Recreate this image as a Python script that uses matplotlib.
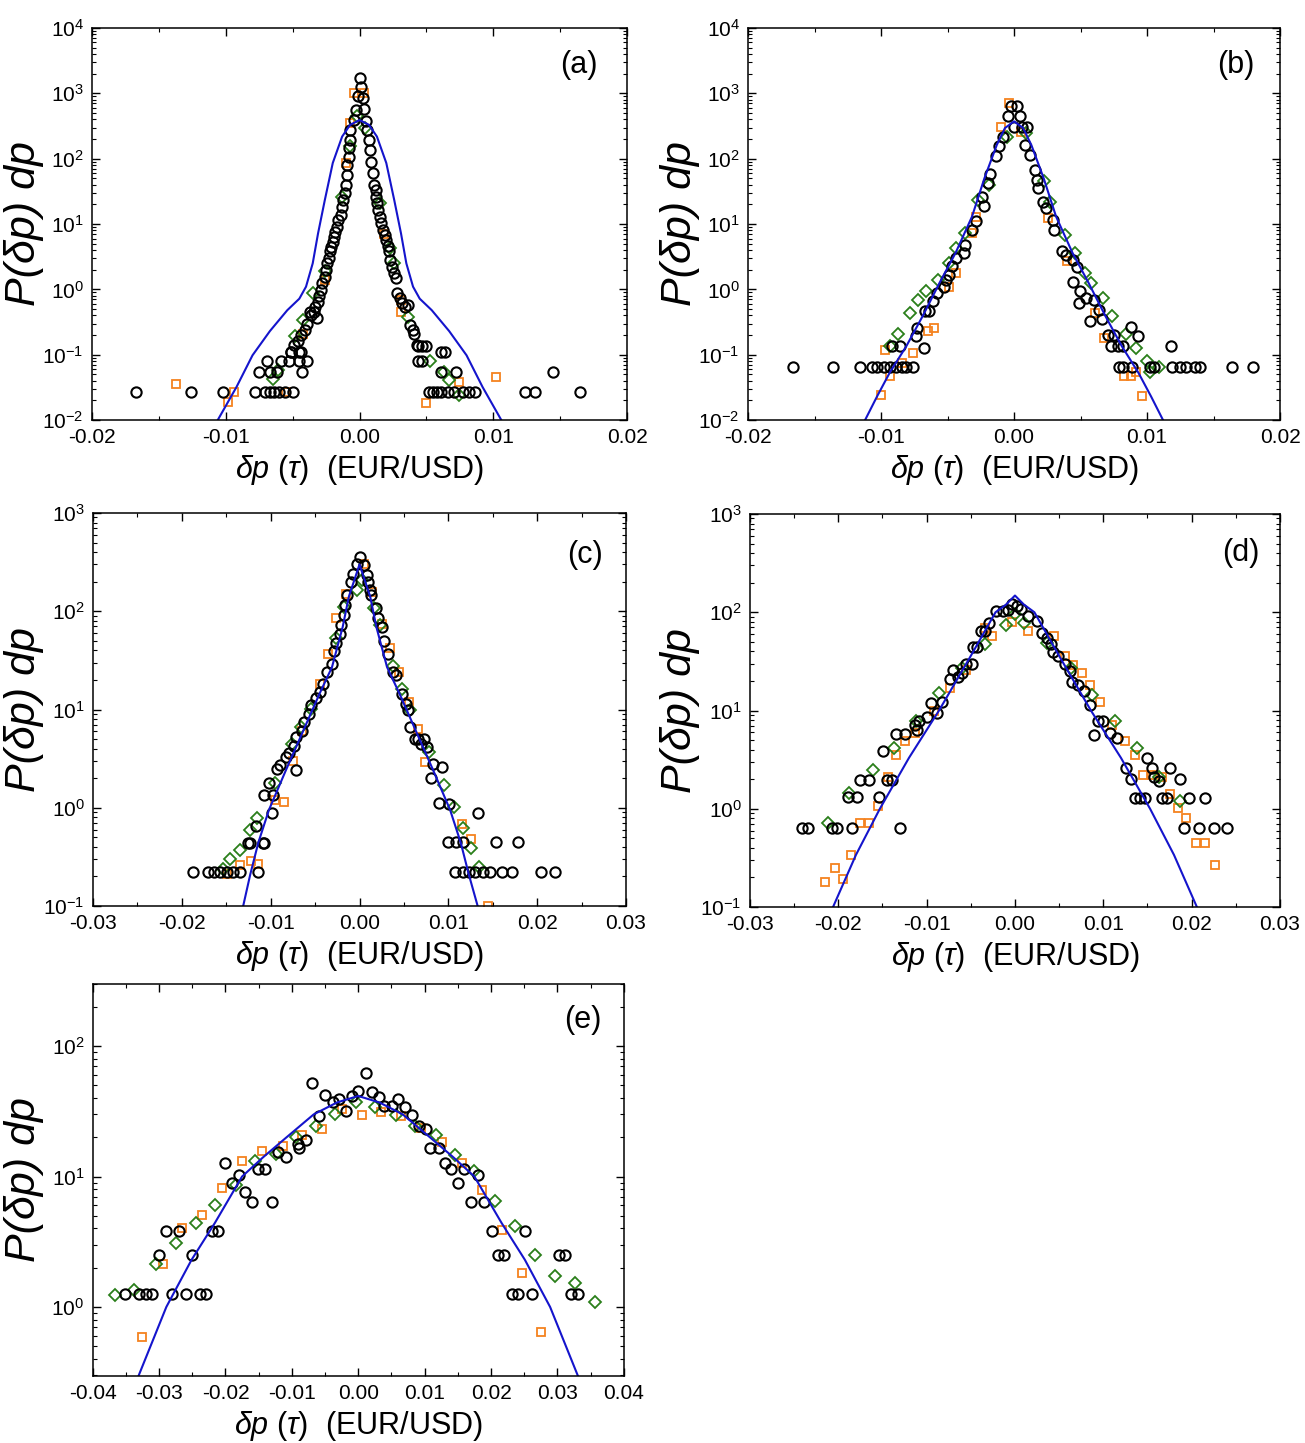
import matplotlib
matplotlib.use("Agg")
import matplotlib.pyplot as plt
from matplotlib.ticker import AutoMinorLocator, NullFormatter, LogLocator

plt.rcParams['font.family'] = 'Liberation Sans'
plt.rcParams['mathtext.fontset'] = 'custom'
plt.rcParams['mathtext.rm'] = 'Liberation Sans'
plt.rcParams['mathtext.it'] = 'Liberation Sans:italic'
plt.rcParams['mathtext.bf'] = 'Liberation Sans:bold'

# ---------------- panel (a) ----------------
a_circ_x = [0.0, 0.0001, -0.0001, 0.00025, -0.0003, 0.0003, -0.0004, 0.0005,
            -0.0007, -0.0007, -0.00075, -0.0008, -0.0009, -0.0009, -0.001, -0.0011, -0.0012, -0.0013,
            -0.0014, -0.0016, -0.0017, -0.0018, -0.0019, -0.002, -0.0021, -0.0022, -0.0023, -0.0024,
            -0.0025, -0.0026, -0.0028, -0.0029, -0.003, -0.0031, -0.0033, -0.0034, -0.0036, -0.0037,
            -0.0032, -0.0039, -0.0041, -0.0044, -0.0046, -0.0049, -0.0051, -0.0044,
            0.00058, 0.00068, 0.00075, 0.00088, 0.001, 0.0011, 0.0012, 0.00125, 0.0013, 0.0014, 0.0015,
            0.0016, 0.00175, 0.0019, 0.002, 0.0021, 0.0022, 0.0023, 0.0024, 0.0026, 0.0027, 0.0028,
            0.003, 0.0032, 0.0034, 0.0036, 0.0038, 0.004, 0.0041, 0.0043,
            0.0044, 0.0047, 0.0050, -0.0051, -0.0045, 0.0061, 0.0064,
            -0.0069, -0.0059, -0.0053, -0.0045, -0.0039, 0.0044, 0.0047,
            -0.0075, -0.0067, -0.0062, -0.0043, 0.0061, 0.0072, 0.0145,
            -0.0167, -0.0126, -0.0102, -0.0078, -0.0071, -0.0067, -0.0064, -0.006, -0.0056, -0.005,
            0.0052, 0.0055, 0.0058, 0.0061, 0.0066, 0.0071, 0.0077, 0.0082, 0.0086, 0.0124, 0.0131, 0.0165]
a_circ_y = [1700, 1260, 900, 840, 556, 575, 390, 380,
            277, 195, 145, 107, 80, 56, 40, 30, 23, 18.5,
            13.8, 11.5, 9.1, 7.6, 6.4, 5.4, 4.5, 3.8, 3.0, 2.5,
            2.0, 1.56, 1.23, 0.98, 0.78, 0.65, 0.54, 0.45, 0.40, 0.45,
            0.36, 0.30, 0.24, 0.20, 0.16, 0.14, 0.11, 0.11,
            277, 195, 135, 89, 60, 40, 33, 26, 21, 16.4, 13,
            10.2, 8.1, 6.8, 5.7, 4.6, 3.8, 2.8, 2.2, 1.75, 1.47, 0.87,
            0.73, 0.61, 0.54, 0.57, 0.28, 0.24, 0.21, 0.14,
            0.135, 0.135, 0.135, 0.11, 0.11, 0.11, 0.11,
            0.08, 0.08, 0.08, 0.08, 0.08, 0.08, 0.08,
            0.054, 0.054, 0.054, 0.054, 0.054, 0.054, 0.054,
            0.027, 0.027, 0.027, 0.027, 0.027, 0.027, 0.027, 0.027, 0.027, 0.027,
            0.027, 0.027, 0.027, 0.027, 0.027, 0.027, 0.027, 0.027, 0.027, 0.027, 0.027, 0.027]
a_sq_x = [-0.0004, 0.0003, -0.0007, -0.001, -0.0026, -0.0042, 0.0018, 0.0031, 0.0031,
          -0.0137, -0.0098, -0.0094, -0.0055, 0.005, 0.0074, 0.0102]
a_sq_y = [1000, 1000, 350, 85, 1.4, 0.21, 7.0, 0.68, 0.45,
          0.036, 0.0186, 0.027, 0.027, 0.018, 0.038, 0.046]
a_dia_x = [-0.0002, 0.0004, -0.0007, -0.0013, 0.0015, 0.0023, 0.0026, 0.0036, -0.0026, -0.0035,
           -0.0042, -0.0048, -0.0061, -0.0065, 0.0053, 0.0063, 0.0067, 0.0074]
a_dia_y = [445, 300, 155, 26, 21, 4.3, 2.5, 0.38, 1.9, 0.87,
           0.34, 0.19, 0.058, 0.043, 0.081, 0.054, 0.041, 0.024]
a_fit_x = [-0.0106, -0.0092, -0.0080, -0.0067, -0.0054, -0.0045, -0.0040, -0.0035, -0.0031, -0.0026,
           -0.0020, -0.0013, -0.0007, 0.0,
           0.0007, 0.0013, 0.0020, 0.0026, 0.0031, 0.0035, 0.0040, 0.0045, 0.0054, 0.0067,
           0.0080, 0.0092, 0.0106]
a_fit_y = [0.01, 0.032, 0.098, 0.23, 0.48, 0.72, 1.1, 2.5, 7.2, 23,
           86, 218, 330, 390,
           330, 218, 86, 23, 7.2, 2.5, 1.1, 0.72, 0.48, 0.23,
           0.098, 0.032, 0.01]

# ---------------- panel (b) ----------------
b_circ_x = [-0.0002, 0.00025, -0.00043, 0.00046, 0.0, 0.0006,
            -0.00084, -0.00115, -0.00136, -0.00183, -0.00198, -0.00238, -0.00223, -0.00285, -0.00316,
            -0.00368, -0.00378, -0.00433, -0.00464, -0.00486, -0.0051, -0.0053, -0.0058, -0.0061,
            -0.0064, -0.0067, -0.0073, -0.0074, -0.0068, -0.0092, -0.0086,
            -0.0166, -0.0136, -0.0116, -0.0107, -0.0103, -0.0098, -0.00935, -0.0089, -0.0084, -0.0081, -0.0076,
            0.0079, 0.0082, 0.0089, 0.0102, 0.0105, 0.0119, 0.0125, 0.0129, 0.0136, 0.0140, 0.0164, 0.0180,
            0.001, 0.0008, 0.00118, 0.00155, 0.00173, 0.0018, 0.0022, 0.0024, 0.0029, 0.00303,
            0.0036, 0.00387, 0.0044, 0.0047, 0.00443, 0.00495, 0.0054, 0.006, 0.0064, 0.0049,
            0.0057, 0.0066, 0.0071, 0.0075, 0.0088, 0.0073, 0.0078, 0.0082, 0.0093, 0.0118]
b_circ_y = [650, 650, 445, 445, 310, 310,
            218, 155, 110, 58, 43, 26, 18.6, 11, 8.1,
            4.8, 3.6, 3.0, 2.25, 1.66, 1.41, 1.1, 0.88, 0.66,
            0.46, 0.46, 0.26, 0.195, 0.126, 0.135, 0.135,
            0.066, 0.066, 0.066, 0.066, 0.066, 0.066, 0.066, 0.066, 0.066, 0.066, 0.066,
            0.066, 0.066, 0.066, 0.066, 0.066, 0.066, 0.066, 0.066, 0.066, 0.066, 0.066, 0.066,
            310, 163, 115, 68, 48, 36, 22, 17.5, 11.7, 8.1,
            3.8, 3.4, 2.8, 2.2, 1.3, 0.93, 0.74, 0.69, 0.49, 0.62,
            0.33, 0.35, 0.20, 0.20, 0.27, 0.135, 0.135, 0.135, 0.195, 0.135]
b_sq_x = [-0.0100, -0.0093, -0.0097, -0.0084, -0.0076, -0.0065, -0.0060, -0.00486, -0.0044, -0.00316,
          -0.00285, -0.0010, -0.00037, 0.00056, 0.00257, 0.00396, 0.0061, 0.00675, 0.0083, 0.0088,
          0.0092, 0.0096]
b_sq_y = [0.024, 0.047, 0.117, 0.074, 0.107, 0.23, 0.26, 1.1, 1.8, 7.2,
          13, 310, 700, 260, 12.3, 2.7, 0.44, 0.18, 0.047, 0.047,
          0.055, 0.023]
b_dia_x = [-0.00935, -0.0087, -0.0078, -0.0072, -0.0066, -0.0057, -0.00486, -0.0044, -0.0037, -0.0027,
           -0.0019, -0.00053, 0.00087, 0.00226, 0.0027, 0.0038, 0.0046, 0.00536, 0.0058, 0.0067,
           0.0074, 0.00845, 0.0092, 0.0100, 0.0109, 0.0102]
b_dia_y = [0.135, 0.21, 0.44, 0.69, 0.93, 1.4, 2.5, 4.3, 7.2, 23.6,
           40, 218, 245, 45, 22, 6.9, 3.6, 1.8, 1.26, 0.74,
           0.39, 0.21, 0.126, 0.079, 0.066, 0.055]
b_fit_x = [-0.0112, -0.0103, -0.00935, -0.0081, -0.00687, -0.0056, -0.0044, -0.00316, -0.00223, -0.0013,
           -0.00068, 0.0,
           0.00068, 0.0013, 0.00223, 0.00316, 0.0044, 0.0056, 0.00687, 0.0081, 0.00935, 0.0103, 0.0112]
b_fit_y = [0.01, 0.023, 0.053, 0.135, 0.39, 1.26, 3.6, 13, 50, 162,
           295, 372,
           295, 162, 50, 13, 3.6, 1.26, 0.39, 0.135, 0.053, 0.023, 0.01]

# ---------------- panel (c) ----------------
c_circ_x = [0.0, -0.00033, 0.00047, -0.0007, 0.0008, -0.00095, 0.00095,
            -0.00142, -0.00166, -0.00175, -0.00204, -0.0022, -0.0026, -0.00285, -0.0031, -0.00365, -0.0041,
            -0.0045, -0.0049, -0.00545, -0.0057, -0.0063, -0.0065, -0.0071, -0.00735, -0.0079, -0.0083,
            -0.009, -0.00925, -0.0072, -0.0102, -0.0107, -0.0097, -0.0098, -0.0116, -0.0123, -0.0125,
            -0.0109, -0.0107,
            -0.0188, -0.0171, -0.0164, -0.0157, -0.0149, -0.0142, -0.0135, -0.0114,
            0.00119, 0.0013, 0.0018, 0.00213, 0.0025, 0.0027, 0.0032, 0.0038, 0.0041, 0.00474, 0.0052,
            0.00545, 0.0057, 0.0062, 0.0066, 0.0073, 0.0069, 0.0076, 0.0083, 0.00925, 0.0081, 0.009,
            0.0101, 0.0133, 0.0100, 0.0109, 0.0116, 0.0154, 0.0178,
            0.0107, 0.0116, 0.0123, 0.0130, 0.0139, 0.0147, 0.0160, 0.0172, 0.0204, 0.0220]
c_circ_y = [355, 300, 295, 240, 235, 200, 200,
            145, 115, 91, 72, 59, 47, 39, 29, 24, 18.3,
            15, 13, 11, 9.1, 7.4, 6.1, 5.3, 4.3, 3.6, 3.3,
            2.7, 2.5, 2.4, 1.78, 1.35, 1.35, 0.89, 0.66, 0.44, 0.44,
            0.44, 0.44,
            0.22, 0.22, 0.22, 0.22, 0.22, 0.22, 0.22, 0.22,
            163, 145, 107, 85, 69, 50, 37, 24, 22.4, 14.5, 11.5,
            9.8, 6.6, 5.0, 5.0, 5.0, 4.5, 4.2, 2.8, 2.6, 2.0, 1.12,
            1.1, 0.89, 0.45, 0.45, 0.45, 0.45, 0.45,
            0.22, 0.22, 0.22, 0.22, 0.22, 0.22, 0.22, 0.22, 0.22, 0.22]
c_sq_x = [-0.0149, -0.0134, -0.0122, -0.0114, -0.0085, -0.0095, -0.0075, -0.0065, -0.0045, -0.0036,
          -0.0026, -0.00157, 0.00047, 0.00142, 0.0025, 0.00346, 0.0044, 0.00555, 0.00655, 0.00735,
          0.0115, 0.0125, 0.0145]
c_sq_y = [0.21, 0.26, 0.29, 0.27, 1.15, 1.2, 3.0, 6.1, 18, 37,
          85, 150, 300, 158, 75, 42, 24, 12, 6.4, 2.9,
          0.69, 0.48, 0.1]
c_dia_x = [-0.0154, -0.0146, -0.0135, -0.0123, -0.0115, -0.0095, -0.0076, -0.0066, -0.00545, -0.0026,
           -0.00175, -0.00033, 0.00033, 0.00166, 0.0023, 0.0038, 0.0048, 0.0057, 0.0078, 0.0095,
           0.0106, 0.0116, 0.0126, 0.0134]
c_dia_y = [0.24, 0.30, 0.37, 0.59, 0.78, 1.78, 4.5, 6.6, 10.2, 53,
           110, 163, 209, 107, 72, 28, 16, 9.8, 3.7, 1.7,
           1.02, 0.63, 0.39, 0.25]
c_fit_x = [-0.0131, -0.0123, -0.0114, -0.0102, -0.0083, -0.0064, -0.0045, -0.0031, -0.0019, -0.0012, 0.0,
           0.0012, 0.0019, 0.0031, 0.0045, 0.0064, 0.0083, 0.0102, 0.0114, 0.0123, 0.0133]
c_fit_y = [0.1, 0.21, 0.44, 0.95, 2.4, 5.9, 14.5, 27, 69, 141, 300,
           141, 69, 27, 14.5, 5.9, 2.4, 0.95, 0.44, 0.21, 0.1]

# ---------------- panel (d) ----------------
d_circ_x = [-0.00084, -0.00037, 0.00023, 0.00065, -0.0014, 0.0015, 0.0025, 0.0031, 0.0036, 0.0043,
            0.00405, 0.0049, 0.0057, 0.0062, 0.0065, 0.0071, 0.0078, 0.0085, 0.0094, 0.0100,
            0.0090, 0.0108, 0.0115, 0.0126, 0.0150, 0.0155, 0.0176, 0.0131, 0.0157, 0.0163,
            0.0187, 0.0136, 0.0141, 0.0147, 0.0167, 0.0172, 0.0197, 0.0215, 0.0191, 0.0208,
            0.0225, 0.0240,
            -0.0022, -0.0029, -0.0034, -0.0039, -0.0043, -0.0048, -0.0049, -0.0055, -0.006, -0.0064,
            -0.007, -0.0074, -0.0083, -0.0088, -0.0095, -0.010, -0.0109, -0.0111, -0.0113, -0.0124,
            -0.0135, -0.0149, -0.0139, -0.0145, -0.0165, -0.0175, -0.0154, -0.0179, -0.0189, -0.0130,
            -0.0185, -0.0202, -0.0207, -0.0234, -0.0241]
d_circ_y = [105, 120, 115, 107, 103, 92, 81, 62, 55, 39,
            47, 36, 29.5, 25, 19.5, 18, 15.8, 11.5, 7.8, 7.8,
            5.7, 5.9, 5.2, 2.6, 3.3, 2.6, 2.6, 2.0, 2.1, 1.9,
            2.0, 1.3, 1.3, 1.3, 1.3, 1.3, 1.3, 1.3, 0.64, 0.64,
            0.64, 0.64,
            102, 77, 65, 65, 44, 44, 29.5, 30, 24, 22,
            26, 21, 12.3, 9.5, 12, 8.5, 7.8, 6.4, 7.2, 5.8,
            5.8, 3.9, 1.96, 1.96, 1.96, 1.96, 1.32, 1.32, 1.32, 0.64,
            0.64, 0.64, 0.64, 0.64, 0.64]
d_sq_x = [-0.0215, -0.0204, -0.0195, -0.0186, -0.0175, -0.0165, -0.0155, -0.0144, -0.0135, -0.0124,
          -0.0113, -0.0092, -0.0074, -0.0055, -0.0034, -0.0026, -0.00037, 0.0015, 0.0044, 0.0057,
          0.0066, 0.00755, 0.0085, 0.0096, 0.0110, 0.0125, 0.0136, 0.0145, 0.0155, 0.0166,
          0.0176, 0.0185, 0.0194, 0.0205, 0.0215, 0.0226]
d_sq_y = [0.18, 0.25, 0.195, 0.34, 0.72, 0.72, 1.07, 2.1, 3.5, 4.9,
          5.9, 9.8, 17, 26, 69, 57, 79, 65, 57, 36,
          29, 24, 18, 12.3, 7.2, 4.9, 3.5, 2.2, 2.2, 2.1,
          1.4, 1.02, 0.80, 0.45, 0.45, 0.27]
d_dia_x = [-0.0212, -0.0188, -0.0161, -0.0137, -0.0112, -0.0086, -0.006, -0.0034, -0.00107, 0.0,
           0.0010, 0.0036, 0.0064, 0.0087, 0.0113, 0.0138, 0.0163, 0.0187]
d_dia_y = [0.72, 1.45, 2.5, 4.2, 7.8, 15, 27, 47, 75, 95,
           78, 49, 27, 14.5, 7.8, 4.2, 2.1, 1.2]
d_fit_x = [-0.0206, -0.018, -0.0153, -0.012, -0.0086, -0.005, -0.0022, -0.001, 0.0,
           0.001, 0.0022, 0.005, 0.0086, 0.012, 0.0153, 0.018, 0.0206]
d_fit_y = [0.1, 0.34, 1.0, 3.3, 10, 36, 100, 120, 148,
           120, 100, 36, 10, 3.3, 1.0, 0.34, 0.1]

# ---------------- panel (e) ----------------
e_circ_x = [0.00114, -0.0070, 0.0, -0.00495, 0.0020, -0.00095, 0.0032, 0.0060, -0.0029, -0.0038,
            0.0039, 0.0051, 0.0070, -0.0019, 0.0081, -0.0059, 0.0091, 0.0102, -0.0079, -0.0090,
            -0.0089, 0.0108, 0.0121, -0.0121, -0.0109, 0.0130, 0.0140, 0.0159, -0.0200, -0.0151,
            -0.0140, 0.0180, -0.0179, -0.0190, 0.0151, -0.0170, -0.0160, -0.0130, 0.0170, 0.0190,
            -0.0220, -0.0211, -0.0290, -0.0270, 0.0201, 0.0251,
            -0.0300, -0.0251, 0.0211, 0.0220, 0.0302, 0.0311,
            -0.0351, -0.0330, -0.0319, -0.0310, -0.0281, -0.0260, -0.0239, -0.0230,
            0.0232, 0.0241, 0.0262, 0.0321, 0.0331]
e_circ_y = [62, 52, 45.5, 42, 44.7, 41.5, 40.5, 39, 39, 37,
            35, 35, 34, 32, 29.5, 29, 24.5, 23, 19, 17.8,
            16.6, 16.6, 16.6, 15.5, 14.1, 12.6, 11.5, 11.5, 12.6, 11.5,
            11.5, 10.2, 10.2, 8.9, 8.9, 7.6, 6.4, 6.4, 6.4, 6.4,
            3.8, 3.8, 3.8, 3.8, 3.8, 3.8,
            2.5, 2.5, 2.5, 2.5, 2.5, 2.5,
            1.26, 1.26, 1.26, 1.26, 1.26, 1.26, 1.26, 1.26,
            1.26, 1.26, 1.26, 1.26, 1.26]
e_sq_x = [-0.0325, -0.0294, -0.0265, -0.0235, -0.0205, -0.0175, -0.0145, -0.0114, -0.0084, -0.0054,
          -0.0025, 0.0005, 0.0035, 0.0065, 0.0095, 0.0126, 0.0156, 0.0186, 0.0216, 0.0246,
          0.0276]
e_sq_y = [0.59, 2.15, 4.0, 5.1, 8.1, 13.2, 15.8, 17.3, 20.8, 23,
          33, 29.5, 31.5, 29, 23.4, 18.5, 12.6, 7.9, 3.9, 1.82,
          0.64]
e_dia_x = [-0.0366, -0.0337, -0.0305, -0.0274, -0.0244, -0.0215, -0.0184, -0.0156, -0.0124, -0.0094,
           -0.0063, -0.0035, -0.0003, 0.0025, 0.0057, 0.0086, 0.0117, 0.0146, 0.0175, 0.0206,
           0.0236, 0.0267, 0.0297, 0.0327, 0.0357]
e_dia_y = [1.23, 1.35, 2.15, 3.1, 4.4, 6.1, 8.6, 13.2, 14.8, 20,
           24.5, 30, 37.5, 34, 29.5, 24.5, 20.8, 14.6, 11, 6.5,
           4.2, 2.5, 1.74, 1.52, 1.10]
e_fit_x = [-0.0331, -0.0289, -0.0251, -0.0216, -0.0175, -0.0143, -0.0108, -0.0067, -0.0032, 0.0,
           0.0032, 0.0067, 0.0108, 0.0143, 0.0175, 0.0216, 0.0251, 0.0289, 0.0331]
e_fit_y = [0.295, 1.0, 2.3, 4.4, 10, 14.1, 20, 30, 37, 41.5,
           37, 30, 20, 14.1, 10, 4.4, 2.3, 1.0, 0.295]

# axis ranges and tick labels
xticks_ab = [-0.02, -0.01, 0.0, 0.01, 0.02]
xticks_cd = [-0.03, -0.02, -0.01, 0.0, 0.01, 0.02, 0.03]
xticks_e = [-0.04, -0.03, -0.02, -0.01, 0.0, 0.01, 0.02, 0.03, 0.04]

panels = [
    ("(a)", [0.0705, 0.7089, 0.4100, 0.2717], (-0.02, 0.02), (1e-2, 1e4), xticks_ab,
     (a_circ_x, a_circ_y), (a_sq_x, a_sq_y), (a_dia_x, a_dia_y), (a_fit_x, a_fit_y), (0.910, 0.905)),
    ("(b)", [0.5732, 0.7089, 0.4077, 0.2717], (-0.02, 0.02), (1e-2, 1e4), xticks_ab,
     (b_circ_x, b_circ_y), (b_sq_x, b_sq_y), (b_dia_x, b_dia_y), (b_fit_x, b_fit_y), (0.917, 0.905)),
    ("(c)", [0.0713, 0.3721, 0.4084, 0.2724], (-0.03, 0.03), (1e-1, 1e3), xticks_cd,
     (c_circ_x, c_circ_y), (c_sq_x, c_sq_y), (c_dia_x, c_dia_y), (c_fit_x, c_fit_y), (0.923, 0.893)),
    ("(d)", [0.5747, 0.3714, 0.4061, 0.2724], (-0.03, 0.03), (1e-1, 1e3), xticks_cd,
     (d_circ_x, d_circ_y), (d_sq_x, d_sq_y), (d_dia_x, d_dia_y), (d_fit_x, d_fit_y), (0.926, 0.900)),
    ("(e)", [0.0710, 0.0464, 0.4070, 0.2717], (-0.04, 0.04), (0.295, 300), xticks_e,
     (e_circ_x, e_circ_y), (e_sq_x, e_sq_y), (e_dia_x, e_dia_y), (e_fit_x, e_fit_y), (0.923, 0.908)),
]

orange = '#F5821F'
green = '#2A7F1A'
blue = '#1414CC'

fig = plt.figure(figsize=(13.05, 14.43), dpi=100)

for tag, rect, xlim, ylim, xticks, circ, sq, dia, fit, tagpos in panels:
    ax = fig.add_axes(rect)
    ax.plot(sq[0], sq[1], 's', ms=6.2, mfc='none', mec=orange, mew=1.3)
    ax.plot(dia[0], dia[1], 'D', ms=5.8, mfc='none', mec=green, mew=1.3)
    ax.plot(circ[0], circ[1], 'o', ms=7.4, mfc='none', mec='black', mew=1.5)
    ax.plot(fit[0], fit[1], '-', color=blue, lw=1.5)

    ax.set_yscale('log')
    ax.set_xlim(*xlim)
    ax.set_ylim(*ylim)
    ax.set_xticks(xticks)
    ax.set_xticklabels([f"{v:.2f}" for v in xticks])
    ax.xaxis.set_minor_locator(AutoMinorLocator(2))
    ax.yaxis.set_major_locator(LogLocator(base=10))
    ax.yaxis.set_minor_locator(LogLocator(base=10, subs=range(2, 10)))
    ax.yaxis.set_minor_formatter(NullFormatter())

    ax.tick_params(which='both', direction='in', top=True, right=True, labelsize=15)
    ax.tick_params(which='major', length=6, width=1.0, pad=6)
    ax.tick_params(which='minor', length=3, width=0.8)
    for s in ax.spines.values():
        s.set_linewidth(1.1)

    # label width in pixels is fixed, so place it from the figure edge
    x0 = rect[0] * 1305
    w = rect[2] * 1305
    ax.set_ylabel('P(δp) dp', fontsize=31, fontstyle='italic')
    ax.yaxis.set_label_coords((44 - x0 + (0 if rect[0] < 0.5 else 656)) / w, 0.5)
    ax.set_xlabel(r'$\mathit{\delta p\ (\tau)}$  (EUR/USD)', fontsize=22, labelpad=4)
    ax.text(tagpos[0], tagpos[1], tag, transform=ax.transAxes, fontsize=22,
            ha='center', va='center')

plt.savefig("out.png", dpi=100)
